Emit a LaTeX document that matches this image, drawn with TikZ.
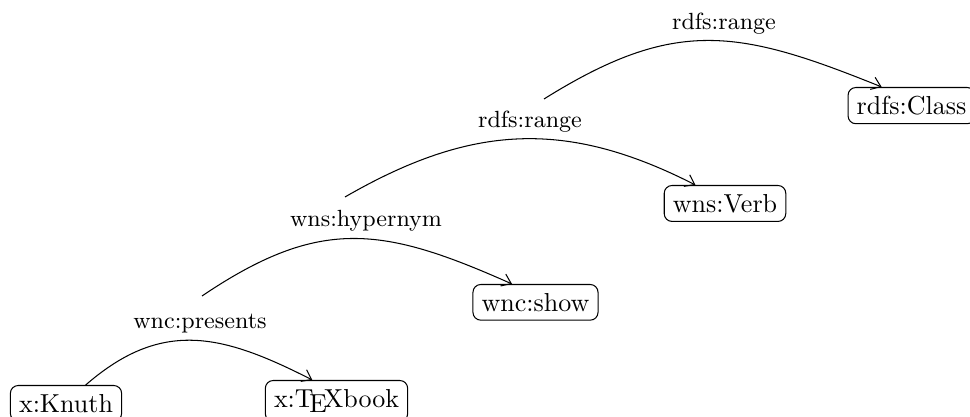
\documentclass[tikz,border=0pt]{standalone}
\usetikzlibrary{arrows.meta}
\begin{document}
\begin{tikzpicture}[
  x=0.38462pt, y=0.38462pt,
  resource/.style={draw, rounded corners=3pt, inner sep=0.333em},
  predicate/.style={font=\small, inner sep=0pt},
  link/.style={-{Straight Barb[length=3.4pt, width=5pt]}, thin},
]
\useasboundingbox (0,0) rectangle (970,417);

% resources
\node[resource, anchor=north] (knuth)   at (66,32)    {x:Knuth};
\node[resource, anchor=north] (texbook) at (336.5,37) {x:\TeX book};
\node[resource, anchor=north] (show)    at (535.5,133) {wnc:show};
\node[resource, anchor=north] (verb)    at (725,232)  {wns:Verb};
\node[resource, anchor=north] (class)   at (911.5,330) {rdfs:Class};

% predicate labels
\node[predicate] (p1) at (200,93)    {wnc:presents};
\node[predicate] (p2) at (366,196)   {wns:hypernym};
\node[predicate] (p3) at (530,295.5) {rdfs:range};
\node[predicate] (p4) at (724,393)   {rdfs:range};

% statements about the predicates start here
\coordinate (s2) at (202,121);
\coordinate (s3) at (345,220);
\coordinate (s4) at (544,318);

% arcs
\draw[link] (knuth.43) to[out=41, in=153, looseness=1.14] (texbook.139);
\draw[link] (s2) to[out=34, in=156, looseness=1.17] (show.142);
\draw[link] (s3) to[out=30, in=153, looseness=1.06] (verb.148);
\draw[link] (s4) to[out=32, in=158, looseness=1.17] (class.148);
\end{tikzpicture}
\end{document}
